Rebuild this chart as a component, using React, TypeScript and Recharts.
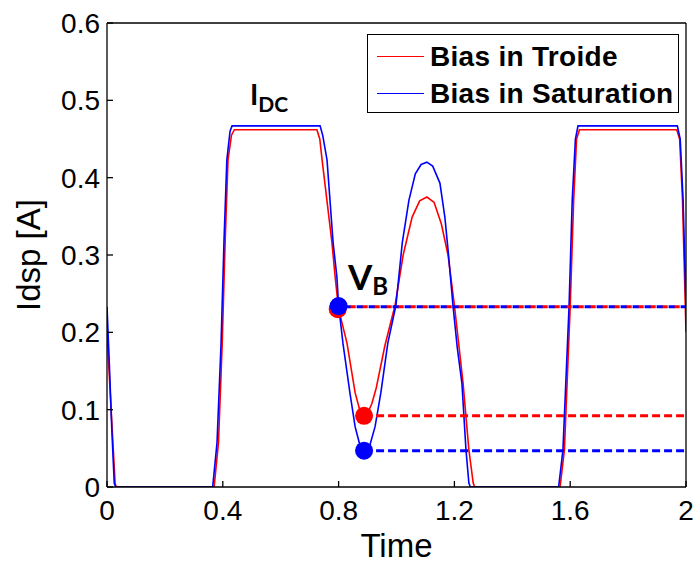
import React from 'react';
import { LineChart, Line, XAxis, YAxis, ReferenceDot, Legend } from 'recharts';

// Bias in Troide (red)
const troideTime = [0, 0.01, 0.02, 0.028, 0.032, 0.37, 0.385, 0.398, 0.408, 0.418, 0.43, 0.44, 0.725, 0.735, 0.743, 0.777, 0.788, 0.8, 0.829, 0.857, 0.875, 0.888, 0.902, 0.915, 0.93, 0.96, 0.995, 1.023, 1.054, 1.08, 1.105, 1.13, 1.155, 1.178, 1.2, 1.23, 1.25, 1.265, 1.27, 1.565, 1.58, 1.6, 1.612, 1.622, 1.632, 1.968, 1.978, 1.988, 2.0];
const troideIdsp = [0.2, 0.13, 0.06, 0.005, 0, 0, 0.057, 0.186, 0.316, 0.423, 0.455, 0.462, 0.462, 0.45, 0.423, 0.316, 0.272, 0.23, 0.186, 0.122, 0.097, 0.092, 0.097, 0.108, 0.128, 0.183, 0.235, 0.3, 0.349, 0.37, 0.375, 0.368, 0.34, 0.3, 0.235, 0.134, 0.048, 0.005, 0, 0, 0.048, 0.233, 0.371, 0.45, 0.462, 0.462, 0.45, 0.371, 0.2];

// Bias in Saturation (blue)
const satTime = [0, 0.008, 0.016, 0.025, 0.03, 0.365, 0.38, 0.394, 0.404, 0.414, 0.425, 0.432, 0.736, 0.745, 0.76, 0.781, 0.794, 0.8, 0.815, 0.839, 0.857, 0.875, 0.89, 0.905, 0.926, 0.946, 0.97, 0.998, 1.02, 1.043, 1.065, 1.085, 1.105, 1.125, 1.15, 1.167, 1.178, 1.195, 1.21, 1.226, 1.24, 1.25, 1.255, 1.56, 1.575, 1.596, 1.607, 1.618, 1.627, 1.97, 1.98, 1.99, 2.0];
const satIdsp = [0.233, 0.16, 0.08, 0.005, 0, 0, 0.057, 0.186, 0.316, 0.423, 0.46, 0.467, 0.467, 0.455, 0.423, 0.316, 0.272, 0.235, 0.186, 0.122, 0.078, 0.052, 0.046, 0.05, 0.078, 0.122, 0.186, 0.235, 0.316, 0.371, 0.405, 0.417, 0.42, 0.415, 0.393, 0.349, 0.307, 0.235, 0.18, 0.134, 0.048, 0.005, 0, 0, 0.048, 0.233, 0.371, 0.45, 0.467, 0.467, 0.45, 0.371, 0.233];

// Marker points (V_B and minima)
const troideMarkTime = [0.797, 0.888];
const troideMarkIdsp = [0.23, 0.092];
const satMarkTime = [0.8, 0.888];
const satMarkIdsp = [0.234, 0.047];

// Dashed level lines
const vbLevel = 0.233;
const troideMinLevel = 0.092;
const satMinLevel = 0.047;
const levelEnd = 2;

const xTicks = [0, 0.4, 0.8, 1.2, 1.6, 2];
const yTicks = [0, 0.1, 0.2, 0.3, 0.4, 0.5, 0.6];
const seriesNames = ['Bias in Troide', 'Bias in Saturation'];
const seriesColors = ['#ff0000', '#0000ff'];

const toPoints = (ts: number[], vs: number[]) => ts.map((t, i) => ({ t, v: vs[i] }));

const troideData = toPoints(troideTime, troideIdsp);
const satData = toPoints(satTime, satIdsp);
const troideVbLine = toPoints([troideMarkTime[0], levelEnd], [vbLevel, vbLevel]);
const satVbLine = toPoints([satMarkTime[0], levelEnd], [vbLevel, vbLevel]);
const troideMinLine = toPoints([troideMarkTime[1], levelEnd], [troideMinLevel, troideMinLevel]);
const satMinLine = toPoints([satMarkTime[1], levelEnd], [satMinLevel, satMinLevel]);

const axisStroke = { stroke: '#000', strokeWidth: 1.3 };
const tickStyle = { fill: '#000', fontSize: 28, fontFamily: 'Liberation Sans, Arial, sans-serif' };
const labelFont = 'Liberation Sans, Arial, sans-serif';

const LegendBox = () => (
  <div
    style={{
      width: 312,
      height: 79,
      boxSizing: 'border-box',
      border: '1.5px solid #000',
      background: '#fff',
      fontFamily: labelFont,
      fontWeight: 'bold',
      fontSize: 28,
      color: '#000',
      padding: '3px 0 0 9px',
    }}
  >
    {seriesNames.map((name, i) => (
      <div key={name} style={{ display: 'flex', alignItems: 'center', height: 37, lineHeight: '37px' }}>
        <span style={{ display: 'inline-block', width: 47, height: 0, borderTop: `1.5px solid ${seriesColors[i]}`, marginRight: 6 }} />
        <span style={{ letterSpacing: 0.3 }}>{name}</span>
      </div>
    ))}
  </div>
);

export default function App() {
  return (
    <div style={{ position: 'absolute', left: 0, top: 0, width: 693, height: 563, background: '#fff' }}>
      <LineChart width={693} height={563} margin={{ top: 22, right: 6, bottom: 0, left: 0 }}>
        <XAxis
          dataKey="t"
          type="number"
          domain={[0, 2]}
          ticks={xTicks}
          interval={0}
          allowDataOverflow
          height={76}
          tickSize={-6}
          tickMargin={19}
          axisLine={axisStroke}
          tickLine={axisStroke}
          tick={tickStyle}
          label={{ value: 'Time', position: 'insideBottom', offset: 6, style: { fontSize: 33, fontFamily: labelFont, fill: '#000' } }}
        />
        <XAxis
          xAxisId="top"
          orientation="top"
          type="number"
          domain={[0, 2]}
          ticks={xTicks}
          interval={0}
          height={1}
          tickSize={-6}
          tickFormatter={() => ''}
          axisLine={axisStroke}
          tickLine={axisStroke}
        />
        <YAxis
          type="number"
          domain={[0, 0.6]}
          ticks={yTicks}
          interval={0}
          allowDataOverflow
          width={107}
          tickSize={-6}
          tickMargin={13}
          axisLine={axisStroke}
          tickLine={axisStroke}
          tick={tickStyle}
          label={{ value: 'Idsp [A]', angle: -90, position: 'insideLeft', offset: 28, style: { textAnchor: 'middle', fontSize: 33, fontFamily: labelFont, fill: '#000' } }}
        />
        <YAxis
          yAxisId="right"
          orientation="right"
          type="number"
          domain={[0, 0.6]}
          ticks={yTicks}
          interval={0}
          width={1}
          tickSize={-6}
          tickFormatter={() => ''}
          axisLine={axisStroke}
          tickLine={axisStroke}
        />
        <Legend
          layout="vertical"
          align="center"
          verticalAlign="middle"
          content={() => <LegendBox />}
          wrapperStyle={{ left: 367, top: 34, width: 312, height: 79 }}
        />
        <Line data={troideData} dataKey="v" name={seriesNames[0]} stroke={seriesColors[0]} strokeWidth={1.6} dot={false} activeDot={false} isAnimationActive={false} type="linear" />
        <Line data={satData} dataKey="v" name={seriesNames[1]} stroke={seriesColors[1]} strokeWidth={1.6} dot={false} activeDot={false} isAnimationActive={false} type="linear" />
        <Line data={troideVbLine} dataKey="v" legendType="none" stroke={seriesColors[0]} strokeWidth={3} strokeDasharray="6 6" dot={false} activeDot={false} isAnimationActive={false} type="linear" />
        <Line data={satVbLine} dataKey="v" legendType="none" stroke={seriesColors[1]} strokeWidth={3} strokeDasharray="6 6" strokeDashoffset={6} dot={false} activeDot={false} isAnimationActive={false} type="linear" />
        <Line data={troideMinLine} dataKey="v" legendType="none" stroke={seriesColors[0]} strokeWidth={3} strokeDasharray="8 4" dot={false} activeDot={false} isAnimationActive={false} type="linear" />
        <Line data={satMinLine} dataKey="v" legendType="none" stroke={seriesColors[1]} strokeWidth={3} strokeDasharray="8 4" dot={false} activeDot={false} isAnimationActive={false} type="linear" />
        {troideMarkTime.map((t, i) => (
          <ReferenceDot key={`r${i}`} x={t} y={troideMarkIdsp[i]} r={9} fill={seriesColors[0]} stroke="none" />
        ))}
        {satMarkTime.map((t, i) => (
          <ReferenceDot key={`b${i}`} x={t} y={satMarkIdsp[i]} r={9} fill={seriesColors[1]} stroke="none" />
        ))}
      </LineChart>
      <svg width={693} height={563} style={{ position: 'absolute', left: 0, top: 0, pointerEvents: 'none' }}>
        <text x={250} y={105} fontFamily="Lato, 'Open Sans', sans-serif" fontWeight="bold" fontSize={28} fill="#000">
          I<tspan fontSize={21} dy={7}>DC</tspan>
        </text>
        <text x={348} y={290} fontFamily="Lato, 'Open Sans', sans-serif" fontWeight="bold" fontSize={35} fill="#000">
          V<tspan fontSize={24} dy={5}>B</tspan>
        </text>
      </svg>
    </div>
  );
}
